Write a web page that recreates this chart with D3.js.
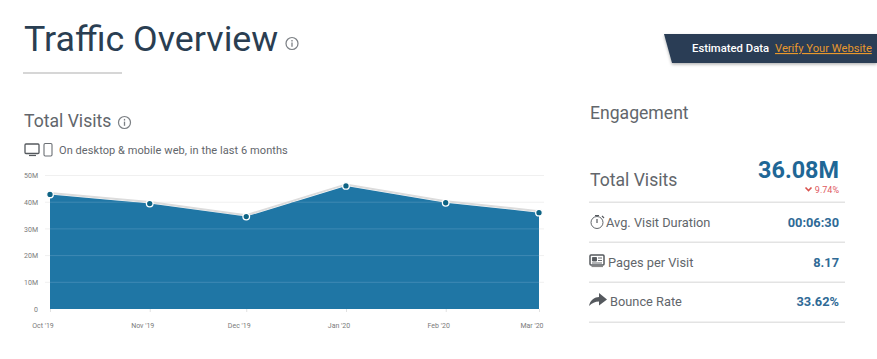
<!DOCTYPE html>
<html><head><meta charset="utf-8">
<script src="https://cdnjs.cloudflare.com/ajax/libs/d3/7.8.5/d3.min.js"></script>
<style>
html,body{margin:0;padding:0;background:#fff;overflow:hidden}
text{font-family:Roboto,sans-serif}
</style></head><body><svg id="c" width="877" height="359"></svg>
<script>
const months = ["2019-10-01","2019-11-01","2019-12-01","2020-01-01","2020-02-01","2020-03-01"];
const monthLabels = ["Oct '19","Nov '19","Dec '19","Jan '20","Feb '20","Mar '20"];
const visits = [42.9,39.5,34.6,46.1,39.8,36.08];
const yTicks = [0,10,20,30,40,50];
const engagementLabels = ["Avg. Visit Duration","Pages per Visit","Bounce Rate"];
const engagementValues = ["00:06:30","8.17","33.62%"];

const svg = d3.select("#c");
const dates = months.map(d3.isoParse);
const x = d3.scaleTime().domain(d3.extent(dates)).range([50,539]);
const y = d3.scaleLinear().domain([0,50]).range([309,175.5]);
const T=(s,px,py,size,fill,weight,anchor)=>svg.append("text").text(s).attr("x",px).attr("y",py)
  .attr("font-size",size).attr("fill",fill).attr("font-weight",weight||400).attr("text-anchor",anchor||"start");
function info(cx,cy,r,col){
  const g=svg.append("g").attr("stroke",col).attr("fill","none");
  g.append("circle").attr("cx",cx).attr("cy",cy).attr("r",r).attr("stroke-width",1.2);
  g.append("line").attr("x1",cx).attr("x2",cx).attr("y1",cy-r*0.15).attr("y2",cy+r*0.55).attr("stroke-width",1.3);
  g.append("line").attr("x1",cx).attr("x2",cx).attr("y1",cy-r*0.6).attr("y2",cy-r*0.32).attr("stroke-width",1.3);
}
// header
T("Traffic Overview",24,51,35.8,"#2a3e52",400);
info(292,43.5,6,"#7b7f84");
svg.append("rect").attr("x",23).attr("y",72).attr("width",99).attr("height",2).attr("fill","#d6d6d6");
// banner
const defs=svg.append("defs");
const f=defs.append("filter").attr("id","sh").attr("x","-5%").attr("y","-20%").attr("width","110%").attr("height","150%");
f.append("feDropShadow").attr("dx",0).attr("dy",1.5).attr("stdDeviation",1.5).attr("flood-color","#000").attr("flood-opacity",0.3);
svg.append("path").attr("d","M664 34H877V63H672Z").attr("fill","#2a3e55").attr("filter","url(#sh)");
T("Estimated Data",692,52,11.3,"#fff",500);
T("Verify Your Website",775,52,11.2,"#e8982c",400).attr("text-decoration","underline");
// section title
T("Total Visits",24,127,17.6,"#62666b",400);
info(124.5,122.5,6,"#7b7f84");
// device icons
svg.append("rect").attr("x",25).attr("y",144).attr("width",14).attr("height",9.5).attr("rx",1).attr("fill","none").attr("stroke","#55595e").attr("stroke-width",1.3);
svg.append("path").attr("d","M29 155.5H36").attr("stroke","#55595e").attr("stroke-width",1.2);
svg.append("rect").attr("x",44).attr("y",143.5).attr("width",8).attr("height",12.5).attr("rx",1.2).attr("fill","none").attr("stroke","#6b6f74").attr("stroke-width",1.1);
T("On desktop & mobile web, in the last 6 months",59,154,11,"#62666b",400).attr("letter-spacing",0.07);

// chart
const pts=dates.map((d,i)=>({d,v:visits[i]}));
svg.append("g").selectAll("line").data(yTicks.slice(1)).join("line")
  .attr("x1",45).attr("x2",544).attr("y1",d=>y(d)).attr("y2",d=>y(d)).attr("stroke","#f0f0f0");
svg.append("path").datum(pts).attr("fill","none").attr("stroke","#dcdcdc").attr("stroke-width",2)
  .attr("transform","translate(0,-1.5)")
  .attr("d",d3.line().x(d=>x(d.d)).y(d=>y(d.v)));
svg.append("path").datum(pts).attr("fill","#1f76a5")
  .attr("d",d3.area().x(d=>x(d.d)).y0(y(0)).y1(d=>y(d.v)));
const clip=defs.append("clipPath").attr("id","ac");
clip.append("path").datum(pts).attr("d",d3.area().x(d=>x(d.d)).y0(y(0)).y1(d=>y(d.v)));
svg.append("g").attr("clip-path","url(#ac)").selectAll("line").data(yTicks.slice(1)).join("line")
  .attr("x1",45).attr("x2",544).attr("y1",d=>y(d)).attr("y2",d=>y(d)).attr("stroke","#4a90b8").attr("stroke-opacity",0.75);
// y axis
const yAxis=d3.axisLeft(y).tickValues(yTicks).tickSize(0).tickPadding(0).tickFormat(d=>d===0?"0":d+"M");
const ya=svg.append("g").attr("transform","translate(38,0)").call(yAxis);
ya.select(".domain").remove();
ya.selectAll("text").attr("font-size",7).attr("fill","#7a7a7a").attr("font-family","Roboto,sans-serif");
// x axis
const xAxis=d3.axisBottom(x).tickValues(dates).tickSize(3).tickPadding(11).tickFormat((d,i)=>monthLabels[i]);
const xa=svg.append("g").attr("transform","translate(0,309)").call(xAxis);
xa.select(".domain").remove();
xa.selectAll("line").attr("stroke","#e2e2e2");
xa.selectAll("text").attr("font-size",7).attr("fill","#7a7a7a").attr("font-family","Roboto,sans-serif").attr("dx",-7.5);
// points
svg.append("g").selectAll("circle").data(pts).join("circle")
  .attr("cx",d=>x(d.d)).attr("cy",d=>y(d.v)).attr("r",3.3)
  .attr("fill","#0e6384").attr("stroke","#fff").attr("stroke-width",1.3);

// engagement
T("Engagement",590,119,17.6,"#62666b",400);
T("Total Visits",590,186,17.6,"#62666b",400);
T("36.08M",839,178,23.4,"#1f6796",700,"end");
T("9.74%",839,193,9,"#e05a5f",400,"end");
svg.append("path").attr("d","M805.5 187.5L808.5 190.5L811.5 187.5").attr("fill","none").attr("stroke","#d9534f").attr("stroke-width",1.6);
[202,242,282,322].forEach(yy=>svg.append("rect").attr("x",589).attr("y",yy-0.5).attr("width",256).attr("height",1.5).attr("fill","#e3e3e3"));
const rowY=[227,267,306], rowX=[606,608,610];
engagementLabels.forEach((s,i)=>{
  T(s,rowX[i],rowY[i],12.8,"#62666b",400);
  T(engagementValues[i],839,rowY[i],12.8,"#2f6a96",700,"end");
});
// stopwatch icon
svg.append("circle").attr("cx",597).attr("cy",222.5).attr("r",6).attr("fill","none").attr("stroke","#62666b").attr("stroke-width",1);
svg.append("path").attr("d","M597 219V223M595 215.5H599M602 216L604 218").attr("stroke","#55595e").attr("stroke-width",1.2).attr("fill","none");
// pages icon
svg.append("rect").attr("x",590).attr("y",255).attr("width",14).attr("height",10).attr("rx",1).attr("fill","#fff").attr("stroke","#55595e").attr("stroke-width",1.5);
svg.append("path").attr("d","M592.5 257.5H596.5V261H592.5ZM598 258H602M598 260.5H602M592 263H602").attr("fill","#55595e").attr("stroke","#55595e").attr("stroke-width",0.9);
svg.append("path").attr("d","M591.5 266.5H603").attr("stroke","#888").attr("stroke-width",1.2);
// bounce arrow icon
svg.append("path").attr("d","M589 306C590 300 595 297 599 297V293L607 299.5L599 305.5V301.5C595 301.5 592 303 589 306Z").attr("fill","#55595e");
</script></body></html>
